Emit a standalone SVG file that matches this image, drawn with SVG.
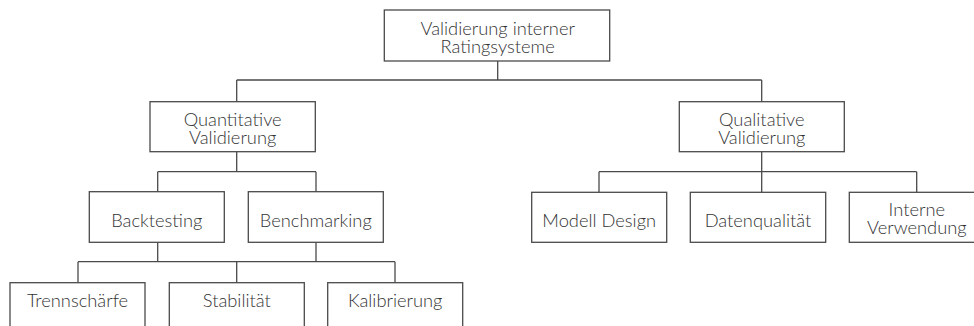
<svg xmlns="http://www.w3.org/2000/svg" width="974" height="326" viewBox="0 0 974 326">
  <style>
    .box { fill: #ffffff; stroke: #4a4a4a; stroke-width: 1.3; }
    .lbl { font-family: Lato, "Open Sans", sans-serif; font-weight: 300; font-size: 18.3px; fill: #333333; text-anchor: middle; }
    .wire { fill: none; stroke: #4a4a4a; stroke-width: 1.3; }
  </style>
  <rect width="974" height="326" fill="#ffffff"/>

  <!-- connectors -->
  <g id="connectors">
    <path class="wire" d="M497.7,61 V80 M236.7,80 H761.7 M236.7,80 V101.7 M761.7,80 V101.7"/>
    <path class="wire" d="M236.7,151.7 V171.7 M157.7,171.7 H316 M157.7,171.7 V191.7 M316,171.7 V191.7"/>
    <path class="wire" d="M157.7,242.3 V261.7 M316,242.3 V261.7 M78,261.7 H395 M78,261.7 V282.7 M236.7,261.7 V282.7 M395,261.7 V282.7"/>
    <path class="wire" d="M761.7,151.7 V192.3 M599,171.7 H916.7 M599,171.7 V192.3 M916.7,171.7 V192.3"/>
  </g>

  <g id="root">
    <rect class="box" x="384.3" y="10" width="225.4" height="51"/>
    <text class="lbl" x="497.7" y="34.5">Validierung interner</text>
    <text class="lbl" x="497.7" y="53">Ratingsysteme</text>
  </g>

  <g id="quantitativ">
    <rect class="box" x="150" y="101.7" width="165.3" height="50"/>
    <text class="lbl" x="232.7" y="125.5">Quantitative</text>
    <text class="lbl" x="232.7" y="144">Validierung</text>
  </g>

  <g id="qualitativ">
    <rect class="box" x="679.3" y="101.7" width="165" height="50"/>
    <text class="lbl" x="761.8" y="125.5">Qualitative</text>
    <text class="lbl" x="761.8" y="144">Validierung</text>
  </g>

  <g id="backtesting">
    <rect class="box" x="89.3" y="191.7" width="135" height="50.6"/>
    <text class="lbl" x="156.8" y="226.5">Backtesting</text>
  </g>

  <g id="benchmarking">
    <rect class="box" x="248.3" y="191.7" width="135" height="50.6"/>
    <text class="lbl" x="315.8" y="226.5">Benchmarking</text>
  </g>

  <g id="trennschaerfe">
    <rect class="box" x="10" y="282.7" width="135" height="60"/>
    <text class="lbl" x="77.5" y="306.5">Trennschärfe</text>
  </g>

  <g id="stabilitaet">
    <rect class="box" x="169.3" y="282.7" width="135" height="60"/>
    <text class="lbl" x="236.8" y="306.5">Stabilität</text>
  </g>

  <g id="kalibrierung">
    <rect class="box" x="327.7" y="282.7" width="135" height="60"/>
    <text class="lbl" x="395.2" y="306.5">Kalibrierung</text>
  </g>

  <g id="modell-design">
    <rect class="box" x="531.7" y="192.3" width="135" height="50"/>
    <text class="lbl" x="599.2" y="226.5">Modell Design</text>
  </g>

  <g id="datenqualitaet">
    <rect class="box" x="690.3" y="192.3" width="135.4" height="50"/>
    <text class="lbl" x="758" y="226.5">Datenqualität</text>
  </g>

  <g id="interne-verwendung">
    <rect class="box" x="849.3" y="192.3" width="135" height="50"/>
    <text class="lbl" x="916.8" y="215.5">Interne</text>
    <text class="lbl" x="916.8" y="234">Verwendung</text>
  </g>
</svg>
